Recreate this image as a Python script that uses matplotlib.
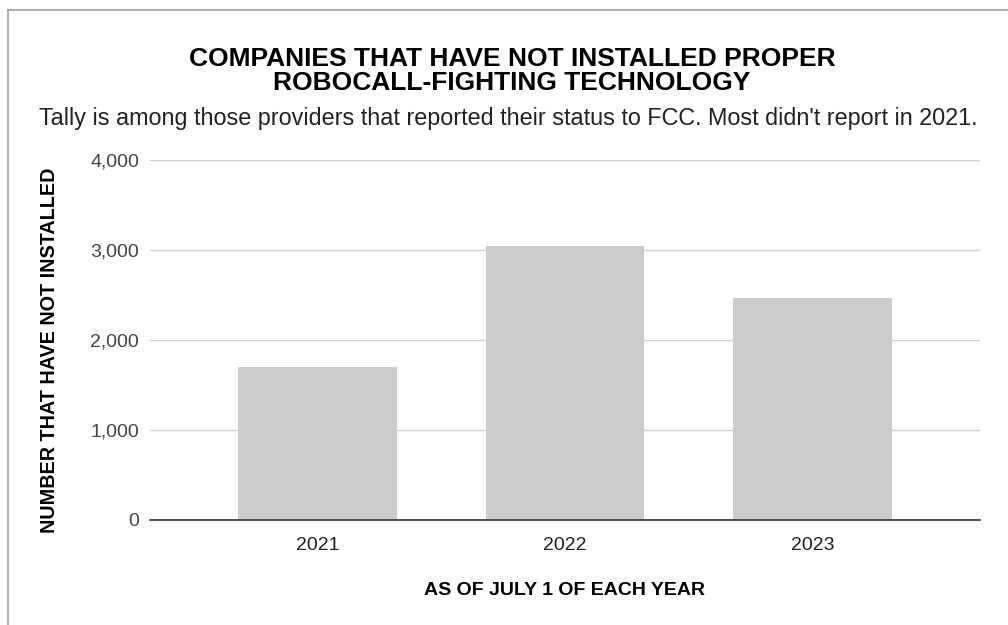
import matplotlib
matplotlib.use("Agg")
import matplotlib.pyplot as plt
from matplotlib.lines import Line2D

plt.rcParams['font.family'] = ['Liberation Sans', 'DejaVu Sans']

years = ["2021", "2022", "2023"]
not_installed = [1700, 3050, 2470]
yticks = [0, 1000, 2000, 3000, 4000]
yticklabels = ["0", "1,000", "2,000", "3,000", "4,000"]

W, H = 1008, 625
fig = plt.figure(figsize=(W / 100, H / 100), dpi=100)
fig.patch.set_facecolor("white")

# panel border (top and left edges)
fig.add_artist(Line2D([8 / W, 1], [1 - 10 / H, 1 - 10 / H], color="#a0a0a0", lw=1.2))
fig.add_artist(Line2D([8 / W, 8 / W], [0, 1 - 10 / H], color="#a0a0a0", lw=1.2))

ax = fig.add_axes([150 / W, (H - 520) / H, (980 - 150) / W, (520 - 160) / H])
x = range(len(years))
ax.bar(x, not_installed, width=0.64, color="#cccccc", zorder=2)
ax.set_xlim(-0.677, 2.677)
ax.set_ylim(0, 4000)
ax.set_xticks(list(x))
ax.set_xticklabels(years, fontsize=14, color="#222222")
ax.set_yticks(yticks)
ax.set_yticklabels(yticklabels, fontsize=14, color="#444444")
ax.grid(axis="y", color="#d0d0d0", lw=1, zorder=1)
ax.tick_params(length=0)
ax.tick_params(axis="y", pad=8)
ax.tick_params(axis="x", pad=12)
for s in ["top", "right", "left"]:
    ax.spines[s].set_visible(False)
ax.spines["bottom"].set_color("#333333")
ax.spines["bottom"].set_linewidth(1.2)
ax.spines["bottom"].set_zorder(3)

ax.set_xlabel("AS OF JULY 1 OF EACH YEAR", fontsize=14, fontweight="bold")
ax.xaxis.set_label_coords(0.5, -(582 - 520) / 360)
ax.set_ylabel("NUMBER THAT HAVE NOT INSTALLED", fontsize=14.2, fontweight="bold")
ax.yaxis.set_label_coords(-(150 - 59) / 830, (520 - 350) / 360)

fig.text(512 / W, 1 - 71 / H, "COMPANIES THAT HAVE NOT INSTALLED PROPER\nROBOCALL-FIGHTING TECHNOLOGY",
         ha="center", va="center", fontsize=19, fontweight="bold", linespacing=0.95)
fig.text(508 / W, 1 - 119 / H,
         "Tally is among those providers that reported their status to FCC. Most didn't report in 2021.",
         ha="center", va="center", fontsize=16.8, color="#222222")

fig.savefig("out.png", dpi=100)
